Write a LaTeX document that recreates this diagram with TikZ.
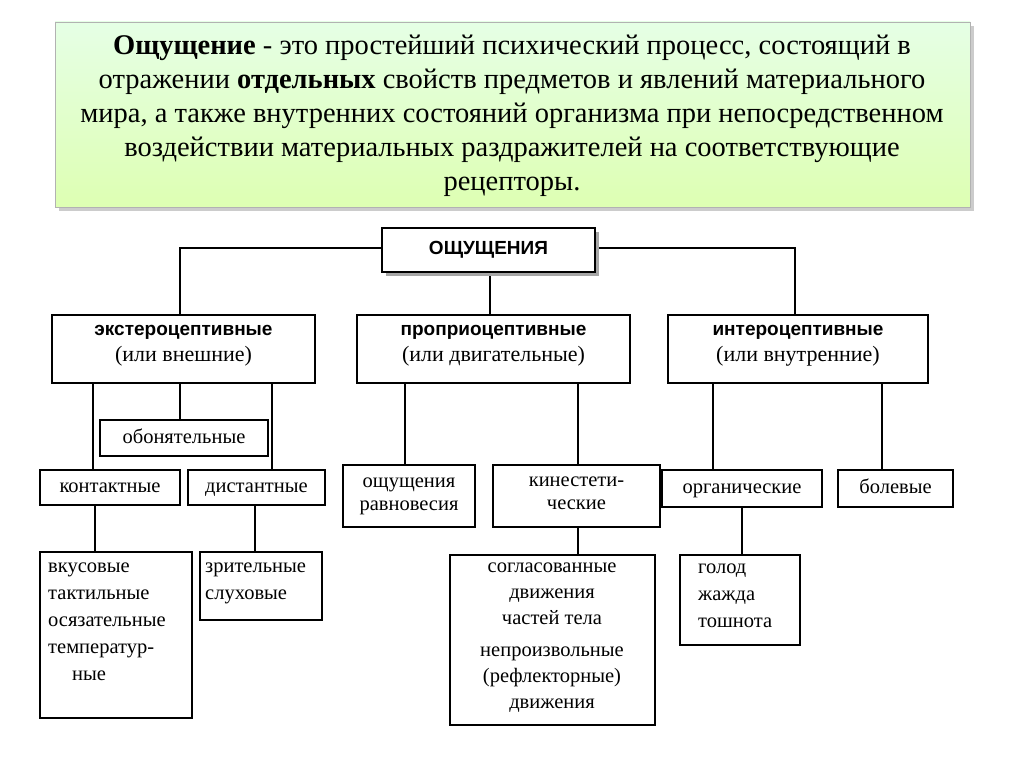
\documentclass[tikz,border=0pt]{standalone}
\usepackage{fontspec}
\setmainfont{Liberation Serif}
\newfontfamily\bx{Liberation Sans}
\begin{document}
\begin{tikzpicture}[x=1pt,y=-1pt,
 bb/.style={draw=black,line width=2.8pt,fill=white},
 ln/.style={line width=2.8pt},
 lab/.style={font=\fontsize{20.5}{22}\selectfont,align=center,inner sep=0},
 one/.style={lab,text height=14pt,text depth=4pt},
 lbl/.style={font=\fontsize{20.5}{27}\selectfont,align=left,inner sep=0}]
\useasboundingbox (0,0) rectangle (1024,767);
\fill[white] (0,0) rectangle (1024,767);
% top box
\fill[gray!40] (59,26) rectangle (974,211);
\shade[top color=green!10!white,bottom color=green!25!lime!30!white,draw=gray!60] (55,22) rectangle (970,207);
\node[align=center,font=\fontsize{28.5}{34}\selectfont,inner sep=0] (def) at (512,116)
{\textbf{Ощущение} - это простейший психический процесс, состоящий в\\
отражении \textbf{отдельных} свойств предметов и явлений материального\\
мира, а также внутренних состояний организма при непосредственном\\
воздействии материальных раздражителей на соответствующие\\
рецепторы.};
% lines
\coordinate (L) at (180,248); \coordinate (R) at (795,248);
\draw[ln] (180,315) -- (L) -- (382,248);
\draw[ln] (795,315) -- (R) -- (595,248);
\draw[ln] (490,272) -- (490,315);
\draw[ln] (93,383) -- (93,470);
\draw[ln] (180,383) -- (180,420);
\draw[ln] (272,383) -- (272,470);
\draw[ln] (95,505) -- (95,552);
\draw[ln] (255,505) -- (255,552);
\draw[ln] (405,383) -- (405,465);
\draw[ln] (578,383) -- (578,465);
\draw[ln] (578,527) -- (578,555);
\draw[ln] (713,383) -- (713,470);
\draw[ln] (882,383) -- (882,470);
\draw[ln] (742,507) -- (742,555);
% root
\fill[gray!70] (386,232) rectangle (599,276);
\draw[bb] (382,228) rectangle (595,272);
\node[lab,font=\bx\bfseries\fontsize{19}{21}\selectfont] (root) at (488.5,250) {ОЩУЩЕНИЯ};
% level 1
\draw[bb] (52,315) rectangle (315,383);
\node[lab] (ext) at (183.5,346) {{\bx\bfseries\fontsize{19}{21}\selectfont экстероцептивные}\\[4pt]\fontsize{22}{24}\selectfont(или внешние)};
\draw[bb] (357,315) rectangle (630,383);
\node[lab] (pro) at (493.5,346) {{\bx\bfseries\fontsize{19}{21}\selectfont проприоцептивные}\\[4pt]\fontsize{22}{24}\selectfont(или двигательные)};
\draw[bb] (668,315) rectangle (928,383);
\node[lab] (int) at (798,346) {{\bx\bfseries\fontsize{19}{21}\selectfont интероцептивные}\\[4pt]\fontsize{22}{24}\selectfont(или внутренние)};
% level 2
\draw[bb] (100,420) rectangle (268,456);
\node[one] (obo) at (184,438) {обонятельные};
\draw[bb] (40,470) rectangle (180,505);
\node[one] (kon) at (110,487.5) {контактные};
\draw[bb] (188,470) rectangle (325,505);
\node[one] (dis) at (256.5,487.5) {дистантные};
\draw[bb] (343,465) rectangle (475,527);
\node[lab] (rav) at (409,496) {ощущения\\[1pt]равновесия};
\draw[bb] (493,465) rectangle (660,527);
\node[lab] (kin) at (576.5,496) {кинестети-\\[1pt]ческие\strut};
\draw[bb] (662,470) rectangle (822,507);
\node[one] (org) at (742,488.5) {органические};
\draw[bb] (838,470) rectangle (953,507);
\node[one] (bol) at (895.5,488.5) {болевые};
% level 3
\draw[bb] (40,552) rectangle (192,718);
\node[lbl,anchor=north west] (vku) at (48,563) {вкусовые\\тактильные\\осязательные\\температур-\\\hspace*{24pt}ные};
\draw[bb] (200,552) rectangle (322,620);
\node[lbl,anchor=north west] (zri) at (205,563) {зрительные\\слуховые};
\draw[bb] (450,555) rectangle (655,725);
\node[lab,font=\fontsize{20.5}{26}\selectfont] (sog) at (552,638) {согласованные\\движения\\частей тела\\[6pt]непроизвольные\\(рефлекторные)\\движения};
\draw[bb] (680,555) rectangle (800,645);
\node[lbl,anchor=north west] (gol) at (698,564) {голод\\жажда\\тошнота};
\end{tikzpicture}
\end{document}
